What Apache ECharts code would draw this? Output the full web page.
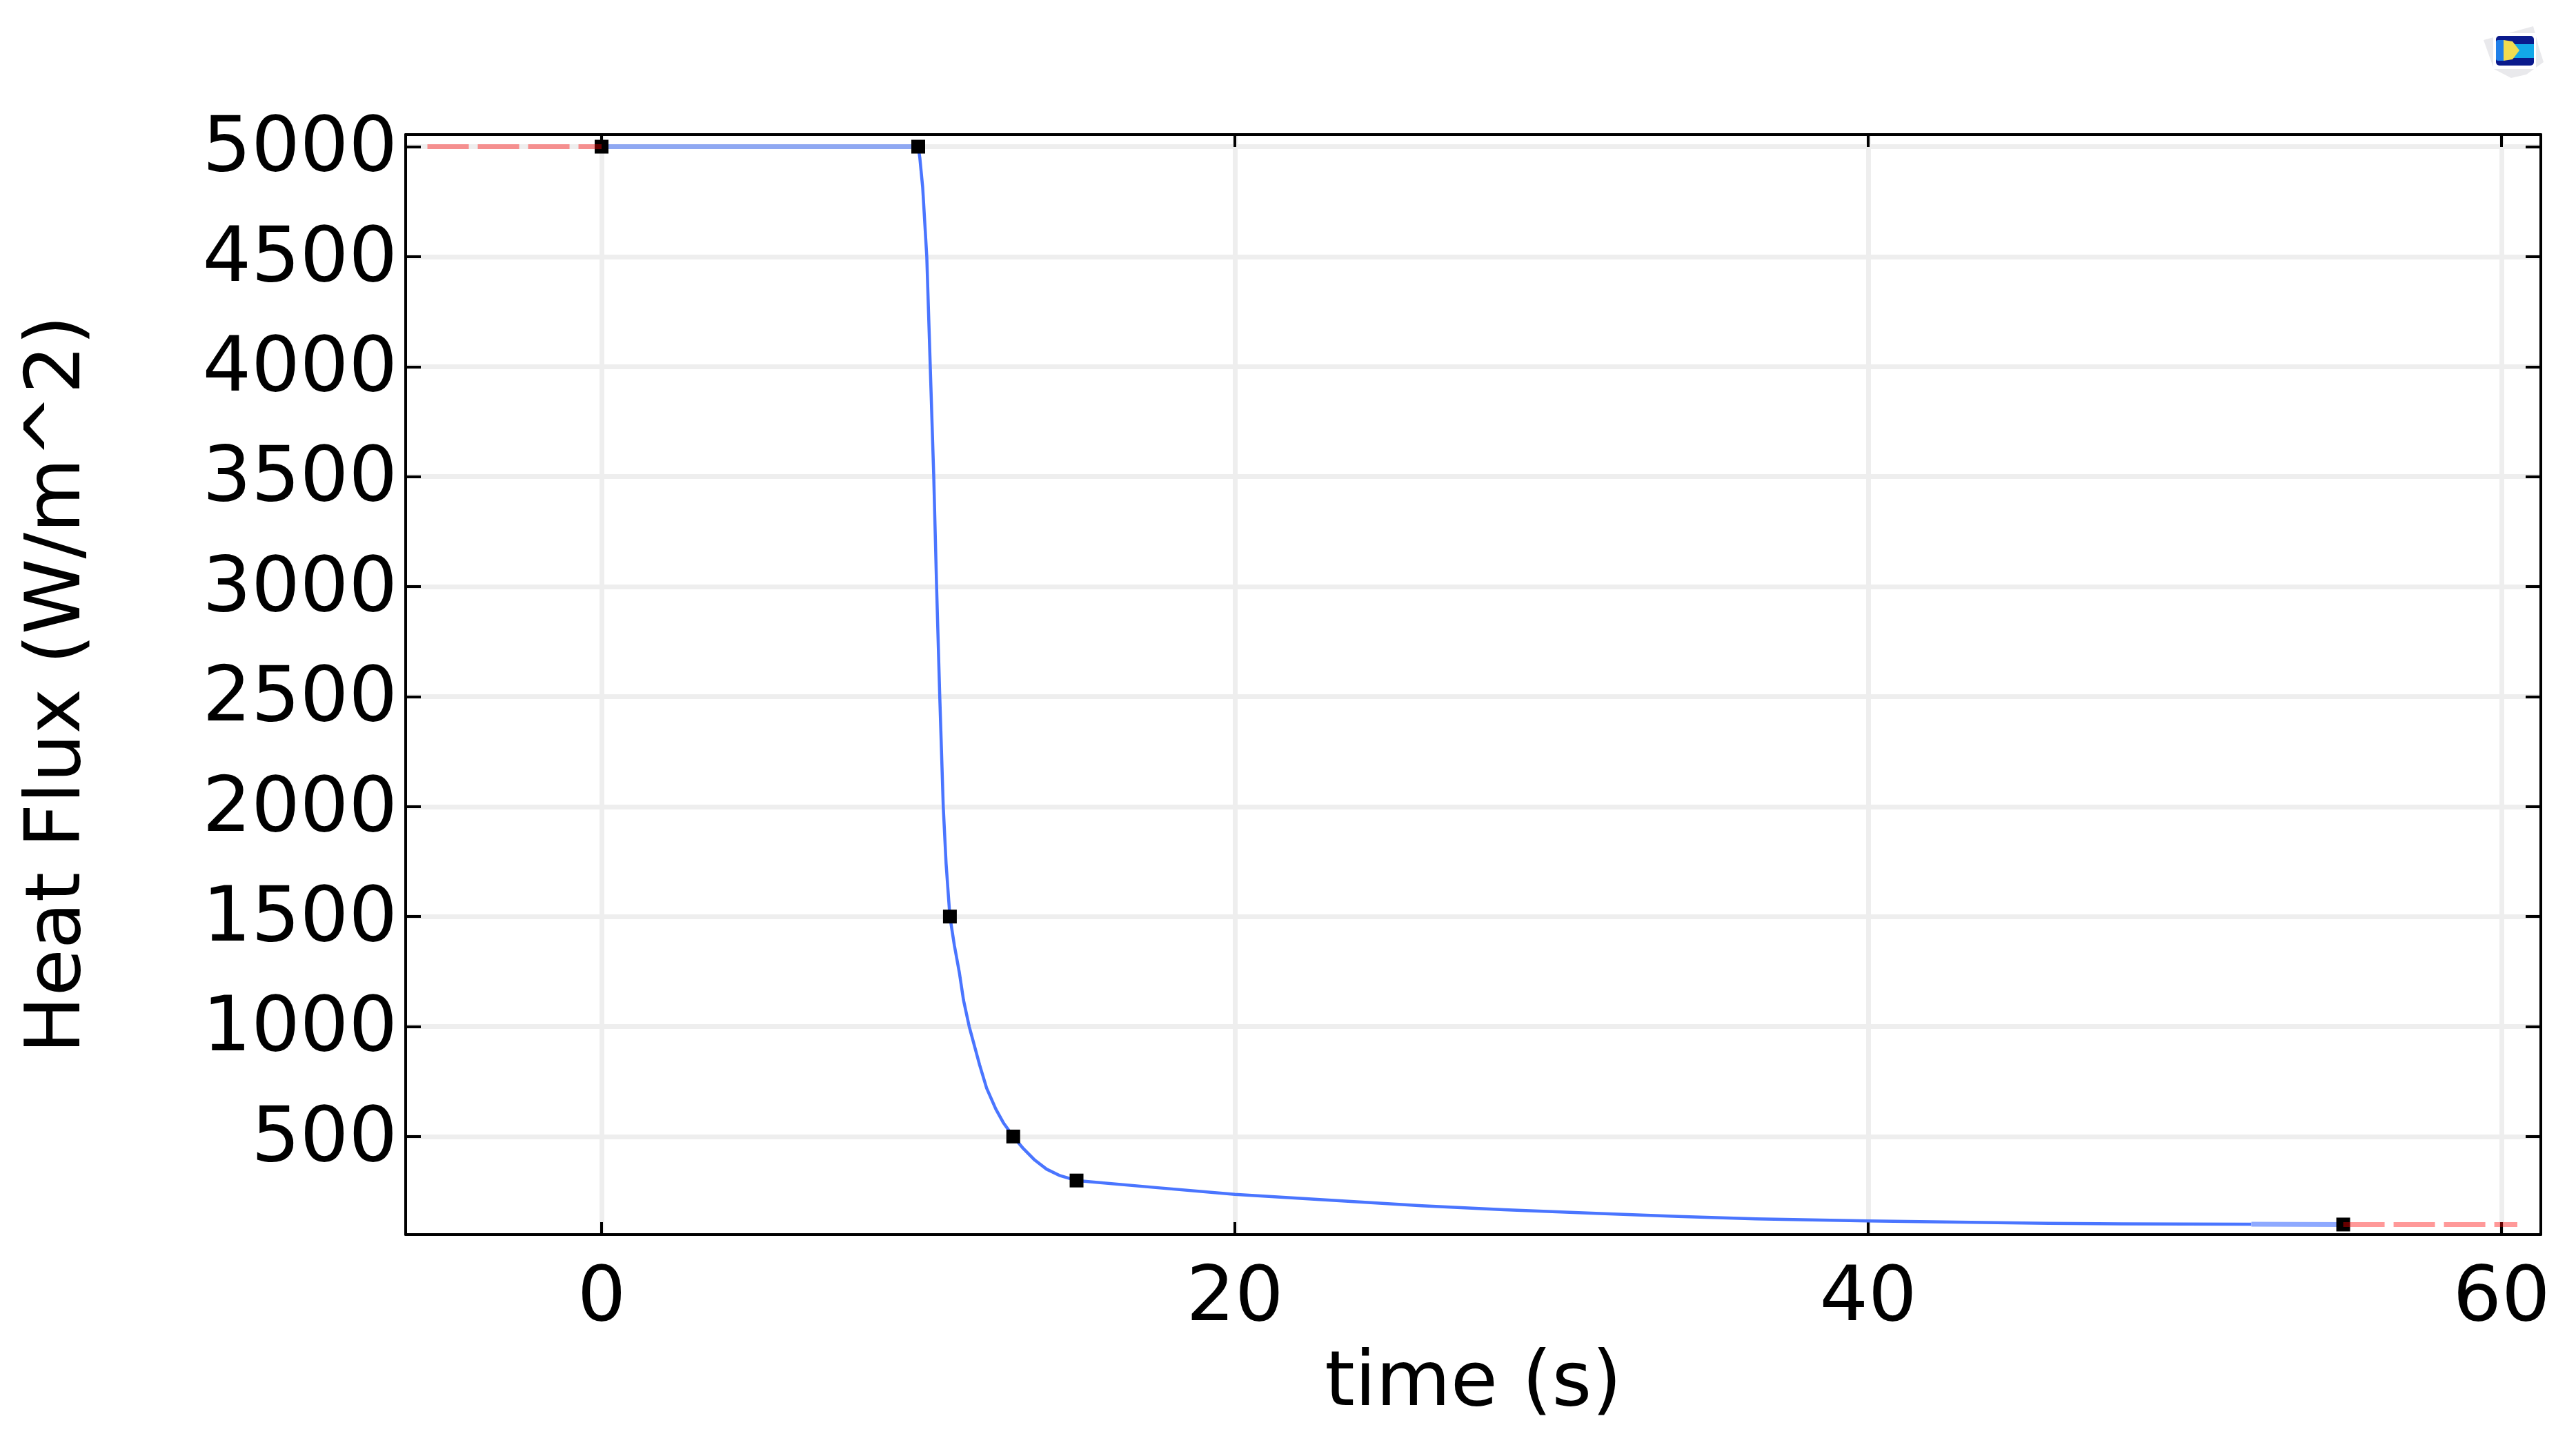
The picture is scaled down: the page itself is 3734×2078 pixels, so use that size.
<!DOCTYPE html>
<html><head><meta charset="utf-8">
<style>html,body{margin:0;padding:0;background:#fff}#c{width:3734px;height:2078px}</style>
<script src="https://cdn.jsdelivr.net/npm/echarts@6/dist/echarts.min.js"></script>
</head><body><div id="c"></div>
<script>
const xTicks = [0, 20, 40, 60];
const yTicks = [500, 1000, 1500, 2000, 2500, 3000, 3500, 4000, 4500, 5000];
const xName = 'time (s)';
const yName = 'Heat Flux (W/m^2)';
const xRange = [-6.187, 61.24];
const yRange = [54.3, 5055];
// control points of the interpolation function
const knots = [[0,5000],[10,5000],[11,1500],[13,500],[15,300],[55,100]];
// curve
const curve = [[10,5000],[10.05,4950],[10.14,4816],[10.27,4500],[10.38,4000],[10.49,3500],[10.58,3000],[10.68,2500],[10.79,2000],[10.88,1740],[11,1500],
  [11.14,1370],[11.3,1244],[11.43,1120],[11.61,1000],[11.94,825],[12.16,720],[12.45,625],[12.7,560],[13,500],[13.32,445],[13.68,393],[14.05,352],[14.48,322],[15,300],
  [17.5,268],[20,237],[25.9,185],[28.5,167],[31.4,151],[34,137],[36.45,126],[40,116],[45.7,105],[48,103],[52.1,101]];
const plateau = [[0,5000],[10,5000]];
const tailEnd = [[52.1,101],[55,100]];
const extrapLeft = [[-5.5,5000],[0,5000]];
const extrapRight = [[55,100],[60.5,100]];

const FONT = '"DejaVu Sans"';
const FS = 111;
const line = {show:true, onZero:false, lineStyle:{color:'#000', width:4}};
const hide = {show:false};
function tick(vals,len){return {show:true, inside:true, length:len, customValues:vals, lineStyle:{color:'#000', width:4}};}

const chart = echarts.init(document.getElementById('c'), null, {renderer:'canvas'});
chart.setOption({
  animation:false,
  backgroundColor:'#fff',
  grid:{left:588, right:51, top:195, bottom:289, containLabel:false},
  xAxis:[
    {type:'value', position:'bottom', min:xRange[0], max:xRange[1], name:xName, nameLocation:'middle', nameGap:163,
     nameTextStyle:{color:'#000', fontFamily:FONT, fontSize:FS},
     axisLine:line, axisTick:tick(xTicks,18),
     axisLabel:{show:true, color:'#000', fontFamily:FONT, fontSize:FS, margin:40, customValues:xTicks, formatter:v=>String(v), hideOverlap:false},
     splitLine:{show:true, lineStyle:{color:'#eeeeee', width:7}}},
    {type:'value', position:'top', min:xRange[0], max:xRange[1],
     axisLine:line, axisTick:tick(xTicks,18), axisLabel:hide, splitLine:hide}
  ],
  yAxis:[
    {type:'value', position:'left', min:yRange[0], max:yRange[1], name:yName, nameLocation:'middle', nameGap:446,
     nameTextStyle:{color:'#000', fontFamily:FONT, fontSize:FS},
     axisLine:line, axisTick:tick(yTicks,22),
     axisLabel:{show:true, color:'#000', fontFamily:FONT, fontSize:FS, margin:12, customValues:yTicks, hideOverlap:false,
       formatter:v=>'{a|'+v+'}', rich:{a:{color:'#000', fontFamily:FONT, fontSize:FS, padding:[12,0,0,0]}}},
     splitLine:{show:true, lineStyle:{color:'#eeeeee', width:7}}},
    {type:'value', position:'right', min:yRange[0], max:yRange[1],
     axisLine:line, axisTick:tick(yTicks,22), axisLabel:hide, splitLine:hide}
  ],
  series:[
    {type:'line', data:curve, showSymbol:false, symbol:'none', lineStyle:{color:'#4a75ff', width:4.5, join:'round'}, z:3},
    {type:'line', data:plateau, symbol:'none', lineStyle:{color:'#8fa8f2', width:7}, z:3},
    {type:'line', data:tailEnd, symbol:'none', lineStyle:{color:'#8ea9ff', width:7}, z:3},
    {type:'scatter', data:knots, symbol:'rect', symbolSize:20, itemStyle:{color:'#000', opacity:1}, z:4},
    {type:'line', data:extrapLeft, symbol:'none', lineStyle:{color:'rgba(255,0,0,0.4)', width:7, type:[60,13]}, z:5},
    {type:'line', data:extrapRight, symbol:'none', lineStyle:{color:'rgba(255,0,0,0.4)', width:7, type:[60,13]}, z:5}
  ],
  graphic:[{type:'group', left:3600, top:38, silent:true, children:[
    {type:'polygon', shape:{points:[[0,20],[72,0],[80,30],[87,52],[62,70],[40,75],[15,62]]}, style:{fill:'#e9e9ec'}},
    {type:'rect', shape:{x:14,y:10,width:62,height:52}, style:{fill:'#fff'}},
    {type:'rect', shape:{x:18,y:14,width:55,height:43,r:5}, style:{fill:'#0a1a8c'}},
    {type:'rect', shape:{x:18,y:20,width:14,height:30,r:3}, style:{fill:'#1f7fe8'}},
    {type:'rect', shape:{x:40,y:26,width:33,height:20}, style:{fill:'#12a8e8'}},
    {type:'polygon', shape:{points:[[29,20],[42,22],[52,35],[42,48],[29,50]]}, style:{fill:'#f2dc50'}}
  ]}]
});
</script></body></html>
